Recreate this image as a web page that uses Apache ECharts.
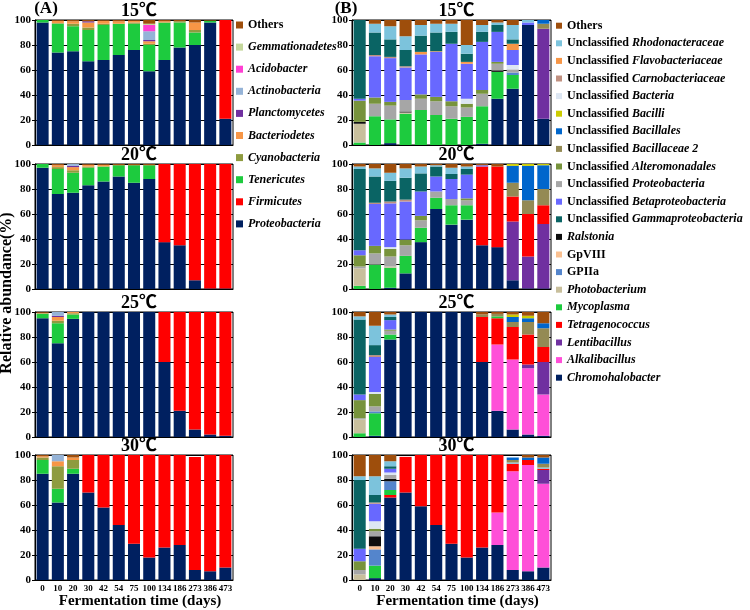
<!DOCTYPE html>
<html>
<head>
<meta charset="utf-8">
<script src="https://cdn.jsdelivr.net/npm/echarts@6/dist/echarts.min.js"></script>
<style>html,body{margin:0;padding:0;background:#fff}#c{width:750px;height:610px}</style>
</head>
<body>
<div id="c"></div>
<script>
// ---------- categories ----------
const categories = ['0','10','20','30','42','54','75','100','134','186','273','386','473'];
const temperatures = ['15℃','20℃','25℃','30℃'];
const yTicks = [0,20,40,60,80,100];

// ---------- (A) phylum level, stacking order bottom->top ----------
const phylumNames = ['Proteobacteria','Firmicutes','Tenericutes','Cyanobacteria','Bacteriodetes','Planctomycetes','Actinobacteria','Acidobacter','Gemmationadetes','Others'];
const phylumColors = ['#002060','#FF0000','#1DCB3E','#8E9B3F','#F79646','#7030A0','#95B3D7','#FF3FD2','#C4D79B','#9E4E0C'];
const phylumLegend = ['Others','Gemmationadetes','Acidobacter','Actinobacteria','Planctomycetes','Bacteriodetes','Cyanobacteria','Tenericutes','Firmicutes','Proteobacteria'];

// 15 C
const a15_proteobacteria = [98,74,75,67,68,72,76,59,68,78,80,98,21];
const a15_firmicutes     = [0,0,0,0,0,0,0,0,0,0,0,0,79];
const a15_tenericutes    = [2,23,20,25,28,25,21,21,30,20,10,1.5,0];
const a15_cyanobacteria  = [0,0.5,2,2,1,0,1,1,0,1,2,0,0];
const a15_bacteriodetes  = [0,2,2,4,2.5,2,1.5,2,1,0,6,0,0];
const a15_planctomycetes = [0,0,0,1,0,0,0,1,0,0,0,0,0];
const a15_actinobacteria = [0,0,0,0,0,0,0,7,0,0,0,0,0];
const a15_acidobacter    = [0,0,0,0,0,0,0,5,0,0,0,0,0];
const a15_gemmationadetes= [0,0,0,0,0,0,0,1,0,0,0,0,0];
const a15_others         = [0,0.5,1,1,0.5,1,0.5,3,1,1,2,0.5,0];
// 20 C
const a20_proteobacteria = [97,76,77,83,86,90,85,88,37.5,35,7,0.5,0.5];
const a20_firmicutes     = [0,0,0,0,0,0,0,0,62.5,65,93,99.5,99.5];
const a20_tenericutes    = [3,20,16,14,12,9,14,11,0,0,0,0,0];
const a20_cyanobacteria  = [0,1.5,2,1,0,0,0,0,0,0,0,0,0];
const a20_bacteriodetes  = [0,1.5,2.5,1.5,1.5,0,0,0,0,0,0,0,0];
const a20_planctomycetes = [0,0,1,0,0,0,0,0,0,0,0,0,0];
const a20_actinobacteria = [0,0,1.5,0,0,0,0,0,0,0,0,0,0];
const a20_acidobacter    = [0,0,0,0,0,0,0,0,0,0,0,0,0];
const a20_gemmationadetes= [0,0,0,0,0,0,0,0,0,0,0,0,0];
const a20_others         = [0,1,0,0.5,0.5,1,1,1,0,0,0,0,0];
// 25 C
const a25_proteobacteria = [95,75,94.5,100,100,100,100,100,60,21,6,2,1];
const a25_firmicutes     = [0,0,0,0,0,0,0,0,40,79,94,98,99];
const a25_tenericutes    = [3.5,16,3.5,0,0,0,0,0,0,0,0,0,0];
const a25_cyanobacteria  = [0.5,2,1,0,0,0,0,0,0,0,0,0,0];
const a25_bacteriodetes  = [0.5,3,1,0,0,0,0,0,0,0,0,0,0];
const a25_planctomycetes = [0,1,0,0,0,0,0,0,0,0,0,0,0];
const a25_actinobacteria = [0,3,0,0,0,0,0,0,0,0,0,0,0];
const a25_acidobacter    = [0,0,0,0,0,0,0,0,0,0,0,0,0];
const a25_gemmationadetes= [0,0,0,0,0,0,0,0,0,0,0,0,0];
const a25_others         = [0.5,0,0,0,0,0,0,0,0,0,0,0,0];
// 30 C
const a30_proteobacteria = [85,62,85,70,58,44,29,18,26,28,8,7,10];
const a30_firmicutes     = [0,0,0,30,42,56,71,82,74,72,90.5,93,90];
const a30_tenericutes    = [11,11,4,0,0,0,0,0,0,0,0,0,0];
const a30_cyanobacteria  = [2,18,7,0,0,0,0,0,0,0,0,0,0];
const a30_bacteriodetes  = [1,4,2,0,0,0,0,0,0,0,0,0,0];
const a30_planctomycetes = [0,0,0,0,0,0,0,0,0,0,0,0,0];
const a30_actinobacteria = [0,5,0,0,0,0,0,0,0,0,0,0,0];
const a30_acidobacter    = [0,0,0,0,0,0,0,0,0,0,0,0,0];
const a30_gemmationadetes= [0,0,0,0,0,0,0,0,0,0,0,0,0];
const a30_others         = [1,0,2,0,0,0,0,0,0,0,0,0,0];

// ---------- (B) genus level, stacking order bottom->top ----------
const genusNames = ['Chromohalobacter','Alkalibacillus','Lentibacillus','Tetragenococcus','Mycoplasma','Photobacterium','GPIIa','GpVIII','Ralstonia',
  'Unclassified Proteobacteria','Unclassified Alteromonadales','Unclassified Bacteria','Unclassified Betaproteobacteria','Unclassified Carnobacteriaceae',
  'Unclassified Flavobacteriaceae','Unclassified Gammaproteobacteria','Unclassified Rhodonacteraceae','Unclassified Bacillaceae 2','Unclassified Bacillales',
  'Unclassified Bacilli','Others'];
const genusColors = ['#002060','#FF4FD8','#7030A0','#FF0000','#1DCB3E','#C8BF9C','#5485CC','#FAC090','#0D0D0D',
  '#A6A6A6','#77933C','#DCE6F2','#6868FF','#C09080','#F79646','#0A6464','#7CC3DC','#948A54','#0066CC','#CCCC00','#9E4E0C'];
const genusLegend = ['Others','Unclassified Rhodonacteraceae','Unclassified Flavobacteriaceae','Unclassified Carnobacteriaceae','Unclassified Bacteria',
  'Unclassified Bacilli','Unclassified Bacillales','Unclassified Bacillaceae 2','Unclassified Alteromonadales','Unclassified Proteobacteria',
  'Unclassified Betaproteobacteria','Unclassified Gammaproteobacteria','Ralstonia','GpVIII','GPIIa','Photobacterium','Mycoplasma',
  'Tetragenococcus','Lentibacillus','Alkalibacillus','Chromohalobacter'];

// 15 C
const b15_chromohalobacter = [0,0,1.5,0,0,0,0,0,1,37,45,96,21];
const b15_alkalibacillus   = [0,0,0,0,0,0,0,0,0,0,0,0,0];
const b15_lentibacillus    = [0,0,0,0,0,0,0,0,0,0,0,0,72];
const b15_tetragenococcus  = [0,0,0,0,0,0,0,0,0,0,0,0,0];
const b15_mycoplasma       = [2,23,19,25,28,24,21,22.5,30,21.5,11,0,0];
const b15_photobacterium   = [15,0,0,1,0,0,0,0,0,0,0,0,0];
const b15_gpiia            = [0,0,0,0,0,0,0,0,0,0,2,0,0];
const b15_gpviii           = [0,0,0,0,0,0,0,0,0,0,0,0,0];
const b15_ralstonia        = [1.5,0,0,0.8,0,0,0,0,0,1,0,0,0];
const b15_proteobacteria   = [0,10,11,9.2,9,11,10,7.5,10,5.5,2.5,0,0];
const b15_alteromonadales  = [17,5,3,0,3.5,3.5,4,3,3,1.5,0,0,0];
const b15_bacteria         = [0,0,0,0,0,0,0,4,0,0,3.5,0,0];
const b15_betaproteo       = [1.5,33,35,26,32,36,46,28,38.5,24,12,2,0];
const b15_carnobacteriaceae= [0,1,1,1,0,0,0,0,0,0,0,0,0];
const b15_flavobacteriaceae= [0,0,0,0,2,0.5,0,1.5,0,0,5,0,0];
const b15_gammaproteo      = [63,18,14,13,13,15,9.5,6.5,8,5.5,3.5,0,0];
const b15_rhodonacteraceae = [0,7,10.5,11,8.5,7,6.5,7,5.5,2,11.5,2,0];
const b15_bacillaceae2     = [0,0,0,0,0,0,0,0,0,0,0,0,4];
const b15_bacillales       = [0,0,0,0,0,0,0,0,0,0,0,0,3];
const b15_bacilli          = [0,0,0,0,0,0,0,0,0,0,0,0,0];
const b15_others           = [0,3,5,13,4,3,3,20,4,2,4,0,0];
// 20 C
const b20_chromohalobacter = [0,0,1,12.5,37.5,64,51.5,55.5,35,33.5,7,0.5,0.5];
const b20_alkalibacillus   = [0,0,0,0,0,0,0,0,0,0,0,0,0];
const b20_lentibacillus    = [0,0,0,0,0,0,0,0,0,0,47,25.5,51.5];
const b20_tetragenococcus  = [0,0,0,0,0,0,0,0,63,64.5,20,34,15];
const b20_mycoplasma       = [2.5,19.5,16,14,11.5,9,15.5,11.5,0,0,0,0,0];
const b20_photobacterium   = [14,0,1,0,0,0,0,0,0,0,0,0,0];
const b20_gpiia            = [0,0,0,0,0,0,0,0,0,0,0,0,0];
const b20_gpviii           = [0,0,0,0,0,0,0,0,0,0,0,0,0];
const b20_ralstonia        = [0,0,0,0,0,0,0,0,0,0,0,0,0];
const b20_proteobacteria   = [1.5,9,8,8.5,6,5,5,4,0,0,0,0,0];
const b20_alteromonadales  = [9,6,6,4.5,3.5,0,0,1.5,0,0,0,0,0];
const b20_bacteria         = [0,0,1.5,0,0,0,0,0,0,0,0,0,0];
const b20_betaproteo       = [4,33.5,35,30.5,19.5,12,16,19,1,0,0,0,0];
const b20_carnobacteriaceae= [0,1,1.5,1.5,0,0,0,0,0,0,0,0,0];
const b20_flavobacteriaceae= [0,0,0,0,0,0,0,0,0,0,0,0,0];
const b20_gammaproteo      = [65,21,16.5,17.5,14.5,8,4,4.5,0,0,0,0,0];
const b20_rhodonacteraceae = [2,6.5,6.5,7.5,5.5,1,5,2,0,0,0,0,0];
const b20_bacillaceae2     = [0,0,0,0,0,0,0,0,0,0,11,11,13];
const b20_bacillales       = [0,0,0,0,0,0,0,0,0,0,13.5,27.5,19];
const b20_bacilli          = [0,0,0,0,0,0,0,0,0,0,1.5,1.5,1];
const b20_others           = [2,3.5,7,3.5,2,1,3,2,1,2,0,0,0];
// 25 C
const b25_chromohalobacter = [0,1,78,100,100,100,100,100,60,21,6,2,1];
const b25_alkalibacillus   = [0,0,0,0,0,0,0,0,0,53,56,53,33];
const b25_lentibacillus    = [0,0,0,0,0,0,0,0,0,0,0,3,26];
const b25_tetragenococcus  = [0,0,0,0,0,0,0,0,36,21,26,24,12];
const b25_mycoplasma       = [3,18,4,0,0,0,0,0,0,1.5,0,0,0];
const b25_photobacterium   = [11,0,0,0,0,0,0,0,0,0,0,0,0];
const b25_gpiia            = [0,1.5,0,0,0,0,0,0,0,0,0,0,0];
const b25_gpviii           = [0,0,0,0,0,0,0,0,0,0,0,0,0];
const b25_ralstonia        = [0,0,0,0,0,0,0,0,0,0,0,0,0];
const b25_proteobacteria   = [1,4,3,0,0,0,0,0,0,0,0,0,0];
const b25_alteromonadales  = [14.5,10,1,0,0,0,0,0,0,0,0,0,0];
const b25_bacteria         = [0,1.5,0,0,0,0,0,0,0,0,0,0,0];
const b25_betaproteo       = [4.5,28,7.5,0,0,0,0,0,0,0,0,0,0];
const b25_carnobacteriaceae= [0,1.5,0,0,0,0,0,0,0,0,0,0,0];
const b25_flavobacteriaceae= [0,0,0,0,0,0,0,0,0,0,0,0,0];
const b25_gammaproteo      = [60,8,2.5,0,0,0,0,0,0,0,0,0,0];
const b25_rhodonacteraceae = [2.5,15.5,2,0,0,0,0,0,0,0,0,0,0];
const b25_bacillaceae2     = [0,0,0,0,0,0,0,0,2,2,4,10,15];
const b25_bacillales       = [0,0,0,0,0,0,0,0,0,0,4,3,4];
const b25_bacilli          = [0,0,0,0,0,0,0,0,0,0,2,2,0];
const b25_others           = [3.5,11,2,0,0,0,0,0,2,1.5,2,3,9];
// 30 C
const b30_chromohalobacter = [0,1.5,66,70,59,44,29,18,26,28,8,7,10];
const b30_alkalibacillus   = [0,0,0,0,0,0,0,0,0,26,79,85,67];
const b30_lentibacillus    = [0,0,0,0,0,0,0,0,0,0,0,0,11];
const b30_tetragenococcus  = [0,0,2,28.5,41,56,71,82,74,46,6,4,1];
const b30_mycoplasma       = [0,10,4,0,0,0,0,0,0,0,0,0,0];
const b30_photobacterium   = [4.5,0,0,0,0,0,0,0,0,0,0,0,0];
const b30_gpiia            = [0,13,7,0,0,0,0,0,0,0,0,0,0];
const b30_gpviii           = [0,2.5,0,0,0,0,0,0,0,0,0,0,0];
const b30_ralstonia        = [0,8,2,0,0,0,0,0,0,0,0,0,0];
const b30_proteobacteria   = [3.5,4,3,0,0,0,0,0,0,0,0,0,0];
const b30_alteromonadales  = [7,2,0,0,0,0,0,0,0,0,0,0,0];
const b30_bacteria         = [0,6,2,0,0,0,0,0,0,0,0,0,0];
const b30_betaproteo       = [10,14,3,0,0,0,0,0,0,0,0,0,0];
const b30_carnobacteriaceae= [0,1,0,0,0,0,0,0,0,0,0,0,0];
const b30_flavobacteriaceae= [0,0,0,0,0,0,0,0,0,0,0,0,0];
const b30_gammaproteo      = [55,6,2,0,0,0,0,0,0,0,0,0,0];
const b30_rhodonacteraceae = [3,15,4,0,0,0,0,0,0,0,1,0,1];
const b30_bacillaceae2     = [0,0,0,0,0,0,0,0,0,0,2,0,3];
const b30_bacillales       = [0,0,0,0,0,0,0,0,0,0,2,2,5];
const b30_bacilli          = [0,0,0,0,0,0,0,0,0,0,0,0,0];
const b30_others           = [17,17,5,0,0,0,0,0,0,0,0,2,2];

const panelA = [
  [a15_proteobacteria,a15_firmicutes,a15_tenericutes,a15_cyanobacteria,a15_bacteriodetes,a15_planctomycetes,a15_actinobacteria,a15_acidobacter,a15_gemmationadetes,a15_others],
  [a20_proteobacteria,a20_firmicutes,a20_tenericutes,a20_cyanobacteria,a20_bacteriodetes,a20_planctomycetes,a20_actinobacteria,a20_acidobacter,a20_gemmationadetes,a20_others],
  [a25_proteobacteria,a25_firmicutes,a25_tenericutes,a25_cyanobacteria,a25_bacteriodetes,a25_planctomycetes,a25_actinobacteria,a25_acidobacter,a25_gemmationadetes,a25_others],
  [a30_proteobacteria,a30_firmicutes,a30_tenericutes,a30_cyanobacteria,a30_bacteriodetes,a30_planctomycetes,a30_actinobacteria,a30_acidobacter,a30_gemmationadetes,a30_others]
];
const panelB = [
  [b15_chromohalobacter,b15_alkalibacillus,b15_lentibacillus,b15_tetragenococcus,b15_mycoplasma,b15_photobacterium,b15_gpiia,b15_gpviii,b15_ralstonia,b15_proteobacteria,b15_alteromonadales,b15_bacteria,b15_betaproteo,b15_carnobacteriaceae,b15_flavobacteriaceae,b15_gammaproteo,b15_rhodonacteraceae,b15_bacillaceae2,b15_bacillales,b15_bacilli,b15_others],
  [b20_chromohalobacter,b20_alkalibacillus,b20_lentibacillus,b20_tetragenococcus,b20_mycoplasma,b20_photobacterium,b20_gpiia,b20_gpviii,b20_ralstonia,b20_proteobacteria,b20_alteromonadales,b20_bacteria,b20_betaproteo,b20_carnobacteriaceae,b20_flavobacteriaceae,b20_gammaproteo,b20_rhodonacteraceae,b20_bacillaceae2,b20_bacillales,b20_bacilli,b20_others],
  [b25_chromohalobacter,b25_alkalibacillus,b25_lentibacillus,b25_tetragenococcus,b25_mycoplasma,b25_photobacterium,b25_gpiia,b25_gpviii,b25_ralstonia,b25_proteobacteria,b25_alteromonadales,b25_bacteria,b25_betaproteo,b25_carnobacteriaceae,b25_flavobacteriaceae,b25_gammaproteo,b25_rhodonacteraceae,b25_bacillaceae2,b25_bacillales,b25_bacilli,b25_others],
  [b30_chromohalobacter,b30_alkalibacillus,b30_lentibacillus,b30_tetragenococcus,b30_mycoplasma,b30_photobacterium,b30_gpiia,b30_gpviii,b30_ralstonia,b30_proteobacteria,b30_alteromonadales,b30_bacteria,b30_betaproteo,b30_carnobacteriaceae,b30_flavobacteriaceae,b30_gammaproteo,b30_rhodonacteraceae,b30_bacillaceae2,b30_bacillales,b30_bacilli,b30_others]
];

// ---------- layout ----------
const FONT = "'Liberation Serif','Times New Roman','Noto Sans CJK SC',serif";
const rowTops = [20,164,312,455];
const gridH = 125;
const colLeft = [35,352];
const colW = [198,199];

const grids = [], xAxes = [], yAxes = [], series = [], graphics = [], legends = [];

for (let col = 0; col < 2; col++) {
  for (let r = 0; r < 4; r++) {
    const gi = grids.length;
    grids.push({left: colLeft[col], top: rowTops[r], width: colW[col], height: gridH,
      show: true, borderColor: '#000', borderWidth: 1, backgroundColor: 'transparent'});
    const bottom = r === 3;
    xAxes.push({type: 'category', gridIndex: gi, data: categories,
      axisLine: {show: true, lineStyle: {color: '#000', width: 1}},
      axisTick: {show: false},
      axisLabel: {show: bottom, interval: 0, margin: 4, color: '#000', fontFamily: FONT, fontWeight: 'bold', fontSize: 9}
    });
    yAxes.push({type: 'value', gridIndex: gi, min: yTicks[0], max: yTicks[yTicks.length-1], interval: 20,
      axisLine: {show: true, lineStyle: {color: '#000', width: 1}},
      axisTick: {show: true, length: 3, lineStyle: {color: '#000'}},
      splitLine: {show: true, lineStyle: {color: '#000', width: 1}},
      axisLabel: {margin: 4, color: '#000', fontFamily: FONT, fontWeight: 'bold', fontSize: 11}
    });
    const names = col === 0 ? phylumNames : genusNames;
    const colors = col === 0 ? phylumColors : genusColors;
    const data = col === 0 ? panelA[r] : panelB[r];
    names.forEach((nm, k) => {
      series.push({type: 'bar', name: nm, xAxisIndex: gi, yAxisIndex: gi, stack: 'p' + gi,
        data: data[k], barCategoryGap: '21%', itemStyle: {color: colors[k]},
        emphasis: {disabled: true}, silent: true});
    });
    graphics.push({type: 'text', x: colLeft[col] + colW[col] / 2 + 5, y: rowTops[r] - 9,
      style: {text: temperatures[r], font: 'bold 18px ' + FONT, fill: '#000',
        align: 'center', verticalAlign: 'middle', textAlign: 'center', textVerticalAlign: 'middle'}});
  }
}

graphics.push({type: 'text', x: 46, y: 9, style: {text: '(A)', font: 'bold 17px ' + FONT, fill: '#000', align: 'center', verticalAlign: 'middle', textAlign: 'center', textVerticalAlign: 'middle'}});
graphics.push({type: 'text', x: 346, y: 9, style: {text: '(B)', font: 'bold 17px ' + FONT, fill: '#000', align: 'center', verticalAlign: 'middle', textAlign: 'center', textVerticalAlign: 'middle'}});
graphics.push({type: 'text', x: 7, y: 293, rotation: Math.PI / 2,
  style: {text: 'Relative abundance(%)', font: 'bold 16px ' + FONT, fill: '#000', align: 'center', verticalAlign: 'middle', textAlign: 'center', textVerticalAlign: 'middle'}});
[0,1].forEach(col => {
  graphics.push({type: 'text', x: colLeft[col] + colW[col] / 2 + 6, y: 601,
    style: {text: 'Fermentation time (days)', font: 'bold 15px ' + FONT, fill: '#000', align: 'center', verticalAlign: 'middle', textAlign: 'center', textVerticalAlign: 'middle'}});
});

const richA = {
  n: {fontFamily: FONT, fontWeight: 'bold', fontStyle: 'normal', fontSize: 12, lineHeight: 14, color: '#000'},
  i: {fontFamily: FONT, fontWeight: 'bold', fontStyle: 'italic', fontSize: 12, lineHeight: 14, color: '#000'}
};
const richB = {
  n: {fontFamily: FONT, fontWeight: 'bold', fontStyle: 'normal', fontSize: 12, lineHeight: 14, color: '#000'},
  i: {fontFamily: FONT, fontWeight: 'bold', fontStyle: 'italic', fontSize: 12, lineHeight: 14, color: '#000'}
};
function fmt(name) {
  if (name === 'Others' || name === 'GpVIII' || name === 'GPIIa') return '{n|' + name + '}';
  if (name.indexOf('Unclassified ') === 0) return '{n|Unclassified }{i|' + name.slice(13) + '}';
  return '{i|' + name + '}';
}
phylumLegend.forEach((nm, i) => {
  legends.push({data: [nm], left: 236, top: 25 + i * 22.1 - 7, padding: 0, itemGap: 0,
    itemWidth: 7, itemHeight: 7, icon: 'rect', selectedMode: false, formatter: fmt,
    textStyle: {fontFamily: FONT, fontSize: 12, lineHeight: 14, rich: richA}});
});
genusLegend.forEach((nm, i) => {
  legends.push({data: [nm], left: 556, top: 25.7 + i * 17.6 - 7, padding: 0, itemGap: 0,
    itemWidth: 6, itemHeight: 6, icon: 'rect', selectedMode: false, formatter: fmt,
    textStyle: {fontFamily: FONT, fontSize: 12, lineHeight: 14, rich: richB}});
});

const chart = echarts.init(document.getElementById('c'), null, {renderer: 'canvas'});
chart.setOption({
  animation: false,
  backgroundColor: '#fff',
  grid: grids, xAxis: xAxes, yAxis: yAxes, series: series,
  legend: legends, graphic: graphics, tooltip: {show: false}
});
</script>
</body>
</html>
